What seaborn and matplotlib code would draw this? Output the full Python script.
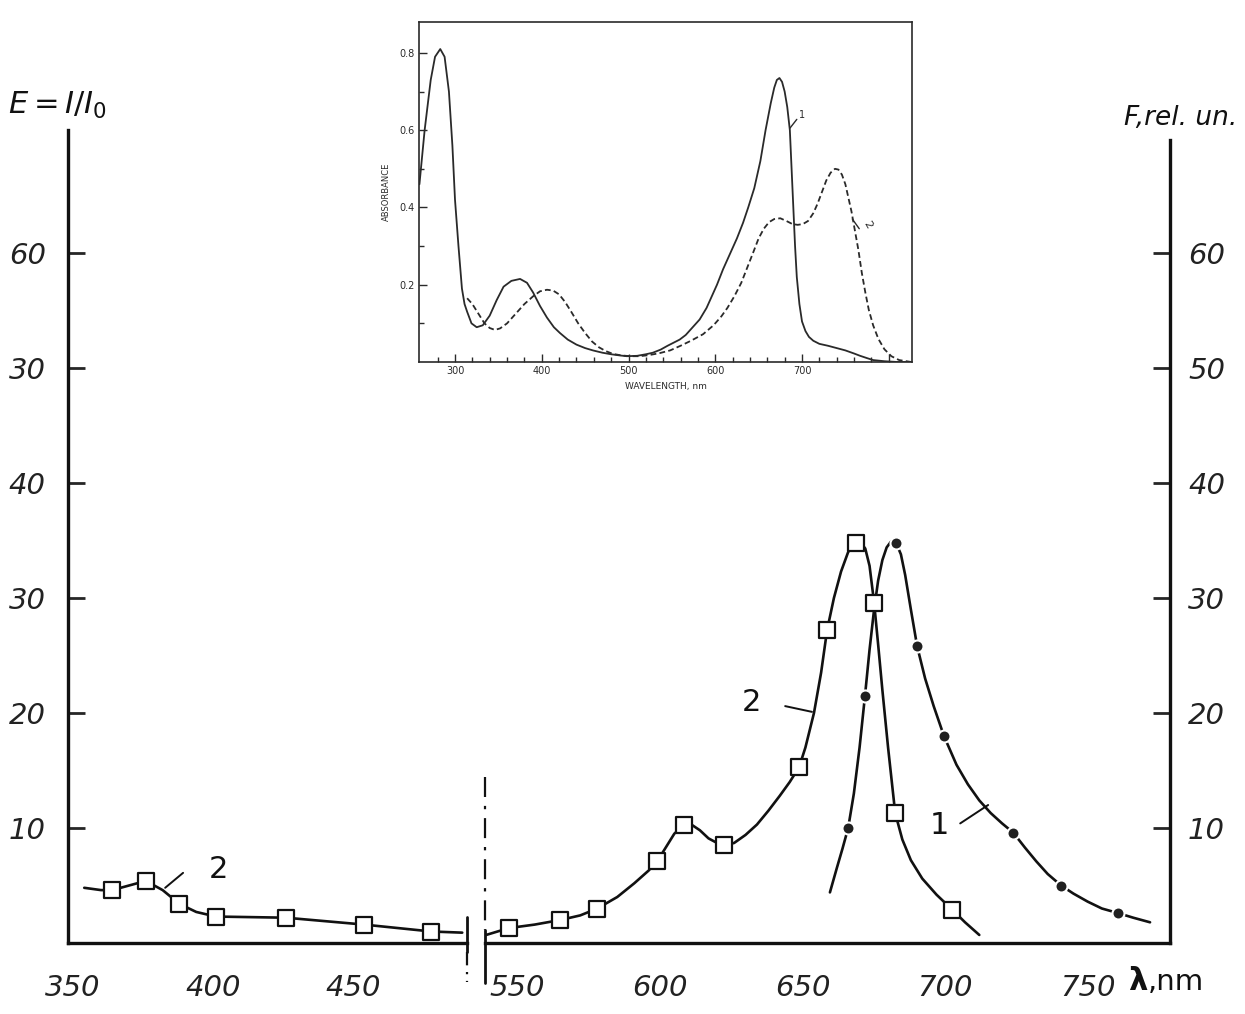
import matplotlib
matplotlib.use("Agg")
import matplotlib.pyplot as plt
from matplotlib.lines import Line2D
import seaborn as sns
import pandas as pd

# ---- main chart data ----
# curve 2, short-wavelength part: measured points (squares) and drawn line
c2_left_x = [364, 376, 388, 401, 426, 454, 478]
c2_left_y = [4.6, 5.4, 3.4, 2.3, 2.2, 1.6, 1.0]
c2_left_line_x = [354, 360, 364, 370, 376, 382, 388, 394, 401, 426, 454, 478, 489]
c2_left_line_y = [4.8, 4.6, 4.6, 5.0, 5.4, 4.6, 3.4, 2.7, 2.3, 2.2, 1.6, 1.0, 0.9]

# curve 2, long-wavelength part
c2_right_x = [547, 565, 578, 599, 608.4, 622.5, 648.8, 658.6, 668.8, 675.1, 682.5, 702.5]
c2_right_y = [1.3, 2.0, 3.0, 7.1, 10.3, 8.5, 15.3, 27.2, 34.8, 29.6, 11.3, 2.9]
c2_right_line_x = [539, 543, 547, 556, 565, 572, 578, 585, 591, 596, 599, 602, 605, 608.4,
                   611, 614, 617, 620, 622.5, 626, 630, 634, 638, 642, 645.5, 648.8, 651,
                   654, 656.5, 658.6, 661, 663.5, 666, 668.8, 670.5, 672, 673.5, 675.1,
                   676.5, 678, 680, 682.5, 685, 688, 692, 697, 702.5, 707, 712]
c2_right_line_y = [0.7, 1.0, 1.3, 1.6, 2.0, 2.4, 3.0, 4.0, 5.2, 6.3, 7.1, 8.3, 9.5, 10.3,
                   10.3, 9.8, 9.1, 8.7, 8.5, 8.7, 9.4, 10.3, 11.5, 12.8, 14.0, 15.3, 17.0,
                   20.0, 23.5, 27.2, 30.0, 32.3, 34.0, 34.8, 34.8, 34.3, 32.8, 29.6, 26.0,
                   22.0, 17.0, 11.3, 9.0, 7.2, 5.6, 4.2, 2.9, 1.8, 0.7]

# curve 1 (filled dots)
c1_x = [666, 671.9, 682.8, 690.2, 699.6, 723.9, 740.7, 760.7]
c1_y = [10.0, 21.5, 34.8, 25.8, 18.0, 9.6, 5.0, 2.6]
c1_line_x = [659.6, 662, 664, 666, 668, 670, 671.9, 673.5, 675, 676.5, 678, 679.5, 681,
             682.8, 684.5, 686, 688, 690.2, 693, 696, 699.6, 704, 708, 712, 716, 720,
             723.9, 728, 732, 736, 740.7, 745, 750, 755, 760.7, 766, 771.9]
c1_line_y = [4.4, 6.5, 8.2, 10.0, 13.0, 17.0, 21.5, 25.5, 28.8, 31.5, 33.3, 34.4, 34.9,
             34.8, 33.8, 32.0, 29.0, 25.8, 23.0, 20.6, 18.0, 15.5, 13.8, 12.4, 11.3, 10.4,
             9.6, 8.3, 7.1, 6.0, 5.0, 4.3, 3.6, 3.0, 2.6, 2.2, 1.8]

y_ticks = [10, 20, 30, 40, 50, 60]
y_left_labels = ["10", "20", "30", "40", "30", "60"]
y_right_labels = ["10", "20", "30", "40", "50", "60"]
x_left_ticks = [350, 400, 450]
x_right_ticks = [550, 600, 650, 700, 750]

# ---- inset data (absorbance spectra) ----
ins1_x = [259, 265, 272, 277, 283, 288, 293, 297, 300, 304, 308, 311, 314, 319, 325, 332,
          340, 348, 356, 365, 375, 383, 390, 398, 406, 414, 421, 430, 440, 450, 459, 470,
          480, 490, 498, 510, 520, 528, 537, 545, 552, 559, 566, 574, 582, 590, 596, 602,
          609, 617, 625, 632, 638, 645, 652, 658, 664, 668, 671, 674, 677, 680, 683, 686,
          688, 690, 692, 694, 697, 700, 704, 708, 713, 720, 730, 740, 750, 760, 767, 775,
          782, 795, 810, 826]
ins1_y = [0.46, 0.6, 0.73, 0.79, 0.81, 0.79, 0.7, 0.56, 0.42, 0.3, 0.19, 0.15, 0.13, 0.1,
          0.09, 0.095, 0.12, 0.16, 0.195, 0.21, 0.215, 0.205, 0.18, 0.145, 0.115, 0.09,
          0.075, 0.058, 0.045, 0.036, 0.03, 0.024, 0.02, 0.017, 0.015, 0.016, 0.02, 0.024,
          0.032, 0.042, 0.05, 0.058, 0.07, 0.09, 0.11, 0.14, 0.17, 0.2, 0.24, 0.28, 0.32,
          0.36, 0.4, 0.45, 0.52, 0.6, 0.67, 0.71, 0.73, 0.735, 0.725, 0.7, 0.66, 0.6, 0.5,
          0.4, 0.3, 0.22, 0.15, 0.105, 0.08, 0.065, 0.055, 0.047, 0.042, 0.036, 0.03,
          0.022, 0.016, 0.01, 0.005, 0.002, 0.0, 0.0]
ins2_x = [314, 320, 327, 334, 340, 346, 352, 360, 370, 380, 390, 398, 406, 413, 420, 427,
          434, 442, 450, 458, 466, 474, 482, 492, 502, 513, 524, 536, 548, 560, 572, 586,
          598, 607, 614, 622, 630, 637, 644, 650, 656, 662, 668, 675, 682, 689, 695, 701,
          707, 713, 718, 723, 728, 733, 738, 742, 746, 750, 753, 757, 761, 765, 769, 773,
          777, 782, 788, 795, 803, 812, 826]
ins2_y = [0.165, 0.15, 0.125, 0.1, 0.088, 0.083, 0.087, 0.1, 0.125, 0.15, 0.17, 0.183,
          0.187, 0.185, 0.175, 0.155, 0.13, 0.1, 0.075, 0.053, 0.038, 0.028, 0.021, 0.017,
          0.015, 0.015, 0.018, 0.023, 0.03, 0.042, 0.055, 0.072, 0.095, 0.118, 0.14, 0.17,
          0.205, 0.245, 0.285, 0.32, 0.345, 0.362, 0.37, 0.372, 0.365, 0.357, 0.355, 0.357,
          0.365, 0.385, 0.41, 0.44, 0.47, 0.49, 0.5, 0.498, 0.485, 0.46, 0.43, 0.39, 0.34,
          0.29, 0.23, 0.18, 0.135, 0.095, 0.06, 0.033, 0.015, 0.005, 0.0]

W, H = 1245, 1014
sns.set_style("white")
plt.rcParams["font.family"] = ["DejaVu Sans"]
plt.rcParams["mathtext.fontset"] = "dejavusans"

fig = plt.figure(figsize=(W / 100, H / 100), dpi=100)


def rect(x0, y0, x1, y1):
    return [x0 / W, 1 - y1 / H, (x1 - x0) / W, (y1 - y0) / H]


def fpt(x, y):
    return x / W, 1 - y / H


axL = fig.add_axes(rect(68, 130, 467, 943))
axR = fig.add_axes(rect(485, 130, 1170, 943))
ins = fig.add_axes(rect(419, 22, 912, 362))

k = "#111111"
lw_curve = 1.9
tick_font = dict(fontsize=21, fontstyle="italic", color="#222222")

# --- left part ---
dl = pd.DataFrame({"x": c2_left_line_x, "y": c2_left_line_y})
sns.lineplot(data=dl, x="x", y="y", ax=axL, color=k, lw=lw_curve, sort=False, estimator=None)
ml = pd.DataFrame({"x": c2_left_x, "y": c2_left_y})
sns.scatterplot(data=ml, x="x", y="y", ax=axL, marker="s", s=140, color="white",
                edgecolor=k, linewidth=1.6, zorder=5)

# --- right part ---
dr = pd.DataFrame({"x": c2_right_line_x, "y": c2_right_line_y})
sns.lineplot(data=dr, x="x", y="y", ax=axR, color=k, lw=lw_curve, sort=False, estimator=None)
d1 = pd.DataFrame({"x": c1_line_x, "y": c1_line_y})
sns.lineplot(data=d1, x="x", y="y", ax=axR, color=k, lw=lw_curve, sort=False, estimator=None)
mr = pd.DataFrame({"x": c2_right_x, "y": c2_right_y})
sns.scatterplot(data=mr, x="x", y="y", ax=axR, marker="s", s=140, color="white",
                edgecolor=k, linewidth=1.6, zorder=5)
m1 = pd.DataFrame({"x": c1_x, "y": c1_y})
sns.scatterplot(data=m1, x="x", y="y", ax=axR, marker="o", s=75, color="#202020",
                edgecolor="white", linewidth=1.5, zorder=5)

for ax in (axL, axR):
    ax.set_ylim(0, 70.7)
    ax.set_xlabel("")
    ax.set_ylabel("")
    ax.set_facecolor("none")
    for s in ax.spines.values():
        s.set_linewidth(2.4)
        s.set_color(k)
    ax.spines["top"].set_visible(False)

axL.set_xlim(348.2, 490.7)
axR.set_xlim(538.6, 778.9)
axL.spines["right"].set_visible(False)
axR.spines["left"].set_visible(False)
axR.spines["right"].set_bounds(0, 69.8)

axL.set_yticks(y_ticks)
axL.set_yticklabels(y_left_labels, **tick_font)
axL.set_xticks(x_left_ticks)
axL.set_xticklabels([str(v) for v in x_left_ticks], **tick_font)
axL.tick_params(axis="y", direction="in", length=12, width=2, pad=16, left=True, right=False)
axL.tick_params(axis="x", direction="in", length=12, width=2, pad=22)

axR.yaxis.tick_right()
axR.set_yticks(y_ticks)
axR.set_yticklabels(y_right_labels, **tick_font)
axR.set_xticks(x_right_ticks)
axR.set_xticklabels([str(v) for v in x_right_ticks], **tick_font)
axR.tick_params(axis="y", direction="in", length=12, width=2, pad=13, left=False, right=True)
axR.tick_params(axis="x", direction="in", length=12, width=2, pad=22)

# curve labels with leader lines
axL.text(398.5, 6.4, "2", fontsize=22, ha="left", va="center", color=k)
axL.plot([382.9, 389.3], [4.8, 6.1], color=k, lw=1.4)
axR.text(635.5, 20.9, "2", fontsize=22, ha="right", va="center", color=k)
axR.plot([643.9, 653.3], [20.6, 20.1], color=k, lw=1.4)
axR.text(701.5, 10.2, "1", fontsize=22, ha="right", va="center", color=k)
axR.plot([705.3, 715.1], [10.4, 12.0], color=k, lw=1.4)

# axis titles
fig.text(*fpt(8, 105), r"$E=I/I_0$", fontsize=22, ha="left", va="center", color=k,
         fontstyle="italic")
fig.text(*fpt(1237, 118), "F,rel. un.", fontsize=19, ha="right", va="center", color=k,
         fontstyle="italic")
fig.text(*fpt(1128, 982), "λ", fontsize=22, ha="left", va="center", color=k,
         fontweight="bold")
fig.text(*fpt(1148, 982), ",nm", fontsize=21, ha="left", va="center", color=k)

# axis break marks
def seg(x0, y0, x1, y1, ls="-", lw=2.0):
    fig.add_artist(Line2D([x0 / W, x1 / W], [1 - y0 / H, 1 - y1 / H],
                          transform=fig.transFigure, color=k, lw=lw, ls=ls))

seg(467, 917, 467, 952)
seg(467, 952, 467, 982, ls=(0, (6, 3, 1, 3)), lw=1.6)
seg(485, 777, 485, 930, ls=(0, (9, 4, 1.5, 4)), lw=1.6)
seg(485, 930, 485, 983)

# --- inset ---
ic = "#2a2a2a"
i1 = pd.DataFrame({"x": ins1_x, "y": ins1_y})
i2 = pd.DataFrame({"x": ins2_x, "y": ins2_y})
sns.lineplot(data=i1, x="x", y="y", ax=ins, color=ic, lw=1.3, sort=False, estimator=None)
sns.lineplot(data=i2, x="x", y="y", ax=ins, color=ic, lw=1.3, sort=False, estimator=None,
             linestyle=(0, (3.2, 1.8)))
ins.set_xlim(258.5, 826.8)
ins.set_ylim(0, 0.88)
ins.set_facecolor("white")
for s in ins.spines.values():
    s.set_linewidth(1.2)
    s.set_color(ic)
ins.set_xticks([300, 400, 500, 600, 700, 800])
ins.set_xticklabels(["300", "400", "500", "600", "700", ""], fontsize=7, color=ic)
ins.set_xticks(list(range(280, 820, 20)), minor=True)
ins.set_yticks([0.2, 0.4, 0.6, 0.8])
ins.set_yticklabels(["0.2", "0.4", "0.6", "0.8"], fontsize=7, color=ic)
ins.set_yticks([0.1, 0.3, 0.5, 0.7], minor=True)
ins.tick_params(which="major", direction="in", length=6, width=1, pad=3, color=ic,
                bottom=True, left=True)
ins.tick_params(which="minor", direction="in", length=3.5, width=1, color=ic,
                bottom=True, left=True)
ins.set_xlabel("WAVELENGTH, nm", fontsize=6.5, color=ic, labelpad=4)
ins.set_ylabel("ABSORBANCE", fontsize=6, color=ic, labelpad=6)
ins.text(697, 0.64, "1", fontsize=7, color=ic, ha="left", va="center")
ins.plot([686, 694], [0.605, 0.628], color=ic, lw=1)
ins.text(768, 0.355, "2", fontsize=8, color=ic, ha="left", va="center", rotation=-60)
ins.plot([758, 766], [0.37, 0.345], color=ic, lw=1)

fig.savefig("out.png", dpi=100)
